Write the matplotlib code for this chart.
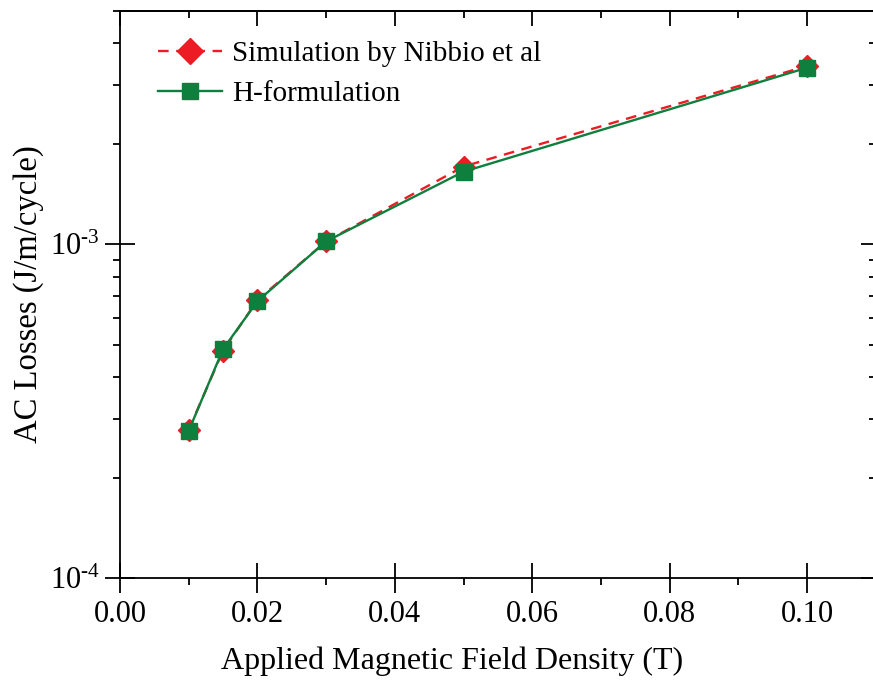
import numpy as np
import matplotlib
matplotlib.use("Agg")
import matplotlib.pyplot as plt
from matplotlib.ticker import LogLocator, FuncFormatter, MultipleLocator, NullFormatter

plt.rcParams['font.family'] = ['Liberation Serif', 'DejaVu Serif']
plt.rcParams['mathtext.fontset'] = 'custom'
plt.rcParams['mathtext.rm'] = 'Liberation Serif'
plt.rcParams['mathtext.it'] = 'Liberation Serif:italic'

# applied field (T) and AC losses (J/m/cycle)
field = [0.01, 0.015, 0.02, 0.03, 0.05, 0.10]
loss_nibbio = [2.78e-4, 4.80e-4, 6.80e-4, 1.02e-3, 1.71e-3, 3.42e-3]
loss_hform = [2.76e-4, 4.85e-4, 6.75e-4, 1.02e-3, 1.65e-3, 3.38e-3]

red = '#ED1C24'
green = '#0F7F3D'


def decade_label(v, pos):
    return r'10$^{\text{%d}}$' % round(np.log10(v))


fig = plt.figure(figsize=(8.73, 6.80), dpi=100)
ax = fig.add_axes([120/873, 102/680, 755.7/873, 567/680])

ax.plot(field, loss_nibbio, color=red, ls=(0, (4.5, 3.2)), lw=1.7,
        marker='D', ms=11.5, mec=red, mfc=red, label='Simulation by Nibbio et al')
ax.plot(field, loss_hform, color=green, ls='-', lw=1.7,
        marker='s', ms=12, mec=green, mfc=green, label='H-formulation')

ax.set_yscale('log')
ax.set_xlim(0.0, 0.11)
ax.set_ylim(1e-4, 5e-3)

ax.xaxis.set_major_locator(MultipleLocator(0.02))
ax.xaxis.set_minor_locator(MultipleLocator(0.01))
ax.xaxis.set_major_formatter(FuncFormatter(lambda v, p: f'{v:.2f}'))

ax.yaxis.set_major_locator(LogLocator(base=10, numticks=10))
ax.yaxis.set_minor_locator(LogLocator(base=10, subs=np.arange(2, 10), numticks=20))
ax.yaxis.set_major_formatter(FuncFormatter(decade_label))
ax.yaxis.set_minor_formatter(NullFormatter())

for s in ax.spines.values():
    s.set_linewidth(1.3)

# bottom/left: major ticks cross the spine, minor ticks point out
ax.tick_params(which='major', bottom=True, left=True, top=False, right=False,
               direction='inout', length=21, width=1.3, labelsize=22)
ax.tick_params(axis='x', which='major', pad=5)
ax.tick_params(axis='y', which='major', pad=4)
ax.tick_params(which='minor', bottom=True, left=True, top=False, right=False,
               direction='out', length=5, width=1.3)

# mirrored ticks on top/right pointing inward
sec_x = ax.secondary_xaxis('top')
sec_x.xaxis.set_major_locator(MultipleLocator(0.02))
sec_x.xaxis.set_minor_locator(MultipleLocator(0.01))
sec_x.tick_params(which='major', direction='in', length=11, width=1.3, labeltop=False)
sec_x.tick_params(which='minor', direction='in', length=5, width=1.3)
sec_x.spines['top'].set_linewidth(1.3)

sec_y = ax.secondary_yaxis('right')
sec_y.set_yscale('log')
sec_y.yaxis.set_major_locator(LogLocator(base=10, numticks=10))
sec_y.yaxis.set_minor_locator(LogLocator(base=10, subs=np.arange(2, 10), numticks=20))
sec_y.tick_params(which='major', direction='in', length=11, width=1.3, labelright=False)
sec_y.tick_params(which='minor', direction='in', length=5, width=1.3, labelright=False)
sec_y.yaxis.set_minor_formatter(NullFormatter())

ax.set_xlabel('Applied Magnetic Field Density (T)', fontsize=23)
ax.xaxis.set_label_coords(0.439, -0.121)
ax.set_ylabel('AC Losses (J/m/cycle)', fontsize=23.5)
ax.yaxis.set_label_coords(-0.10, 0.5)

leg = ax.legend(loc='upper left', bbox_to_anchor=(0.035, 0.968), frameon=False,
                fontsize=21, handlelength=2.2, handletextpad=0.35, labelspacing=0.45,
                borderaxespad=0.0)
leg.legend_handles[0].set_markersize(13.5)

fig.savefig('out.png', dpi=100)
